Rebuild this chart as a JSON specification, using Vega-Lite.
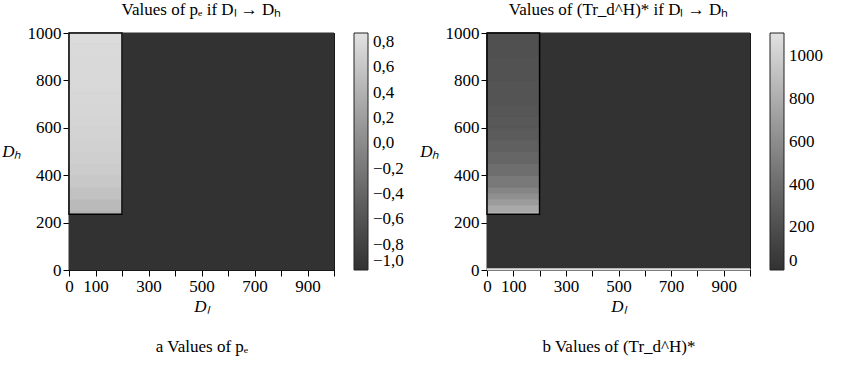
{
  "$schema": "https://vega.github.io/schema/vega-lite/v6.json",
  "background": "white",
  "padding": {"left": 1, "top": 0, "right": 4, "bottom": 4},
  "datasets": {
    "pE": [
      {"xl": 0, "xh": 1000, "yl": 0, "yh": 1000, "v": -1},
      {"xl": 0, "xh": 200, "yl": 235, "yh": 250, "v": 0.40},
      {"xl": 0, "xh": 200, "yl": 250, "yh": 300, "v": 0.48},
      {"xl": 0, "xh": 200, "yl": 300, "yh": 350, "v": 0.56},
      {"xl": 0, "xh": 200, "yl": 350, "yh": 400, "v": 0.62},
      {"xl": 0, "xh": 200, "yl": 400, "yh": 450, "v": 0.66},
      {"xl": 0, "xh": 200, "yl": 450, "yh": 500, "v": 0.69},
      {"xl": 0, "xh": 200, "yl": 500, "yh": 550, "v": 0.71},
      {"xl": 0, "xh": 200, "yl": 550, "yh": 600, "v": 0.73},
      {"xl": 0, "xh": 200, "yl": 600, "yh": 650, "v": 0.74},
      {"xl": 0, "xh": 200, "yl": 650, "yh": 700, "v": 0.75},
      {"xl": 0, "xh": 200, "yl": 700, "yh": 750, "v": 0.76},
      {"xl": 0, "xh": 200, "yl": 750, "yh": 800, "v": 0.77},
      {"xl": 0, "xh": 200, "yl": 800, "yh": 850, "v": 0.78},
      {"xl": 0, "xh": 200, "yl": 850, "yh": 900, "v": 0.78},
      {"xl": 0, "xh": 200, "yl": 900, "yh": 950, "v": 0.79},
      {"xl": 0, "xh": 200, "yl": 950, "yh": 1000, "v": 0.80}
    ],
    "tr": [
      {"xl": 0, "xh": 1000, "yl": 0, "yh": 1000, "v": 0},
      {"xl": 0, "xh": 1000, "yl": 0, "yh": 5, "v": 1110},
      {"xl": 0, "xh": 200, "yl": 235, "yh": 245, "v": 900},
      {"xl": 0, "xh": 200, "yl": 245, "yh": 275, "v": 780},
      {"xl": 0, "xh": 200, "yl": 275, "yh": 300, "v": 700},
      {"xl": 0, "xh": 200, "yl": 300, "yh": 325, "v": 620},
      {"xl": 0, "xh": 200, "yl": 325, "yh": 350, "v": 560},
      {"xl": 0, "xh": 200, "yl": 350, "yh": 400, "v": 480},
      {"xl": 0, "xh": 200, "yl": 400, "yh": 450, "v": 410},
      {"xl": 0, "xh": 200, "yl": 450, "yh": 500, "v": 360},
      {"xl": 0, "xh": 200, "yl": 500, "yh": 550, "v": 320},
      {"xl": 0, "xh": 200, "yl": 550, "yh": 600, "v": 290},
      {"xl": 0, "xh": 200, "yl": 600, "yh": 650, "v": 270},
      {"xl": 0, "xh": 200, "yl": 650, "yh": 700, "v": 255},
      {"xl": 0, "xh": 200, "yl": 700, "yh": 800, "v": 240},
      {"xl": 0, "xh": 200, "yl": 800, "yh": 900, "v": 225},
      {"xl": 0, "xh": 200, "yl": 900, "yh": 1000, "v": 215}
    ],
    "box": [
      {"xl": 0, "xh": 200, "yl": 235, "yh": 1000}
    ]
  },
  "config": {
    "font": "Liberation Serif",
    "view": {"stroke": "black", "strokeWidth": 1},
    "title": {"font": "Liberation Serif", "fontSize": 17, "fontWeight": "normal", "color": "black"}
  },
  "hconcat": [
    {
      "width": 265,
      "height": 237,
      "title": {"text": "Values of pₑ if Dₗ → Dₕ", "offset": 5},
      "layer": [
        {
          "data": {"name": "pE"},
          "mark": {"type": "rect", "strokeWidth": 1},
          "encoding": {
            "x": {"field": "xl", "type": "quantitative", "scale": {"domain": [0, 1000], "nice": false},
              "axis": {"values": [0, 100, 200, 300, 400, 500, 600, 700, 800, 900, 1000], "format": "d",
                "labelExpr": "indexof([0,100,300,500,700,900], datum.value) >= 0 ? datum.label : ''",
                "grid": false, "domainColor": "black", "tickColor": "black", "tickSize": 6,
                "labelOverlap": false, "labelFlush": false, "labelPadding": 2,
                "labelFont": "Liberation Serif", "labelFontSize": 17, "labelColor": "black",
                "encode": {"labels": {"update": {"font": {"value": "Liberation Serif"}, "fontSize": {"value": 17}, "fill": {"value": "black"}}}},
                "title": "Dₗ", "titleFontStyle": "italic", "titleFontSize": 17, "titleFontWeight": "normal", "titleColor": "black", "titlePadding": 4}},
            "x2": {"field": "xh"},
            "y": {"field": "yl", "type": "quantitative", "scale": {"domain": [0, 1000], "nice": false},
              "axis": {"values": [0, 100, 200, 300, 400, 500, 600, 700, 800, 900, 1000], "format": "d",
                "grid": false, "domainColor": "black", "tickColor": "black", "tickSize": 6,
                "labelOverlap": false, "labelFlush": false, "labelPadding": 2,
                "labelFont": "Liberation Serif", "labelFontSize": 17, "labelColor": "black",
                "encode": {"labels": {"update": {"font": {"value": "Liberation Serif"}, "fontSize": {"value": 17}, "fill": {"value": "black"}}}},
                "title": "Dₕ", "titleFontStyle": "italic", "titleFontSize": 17, "titleFontWeight": "normal", "titleColor": "black",
                "titleAngle": 0, "titleAlign": "right", "titleBaseline": "middle", "titlePadding": 6}},
            "y2": {"field": "yh"},
            "color": {"field": "v", "type": "quantitative",
              "scale": {"domain": [-1, 0.87], "range": ["#323232", "#e2e2e2"]},
              "legend": {"type": "gradient", "title": null, "values": [-1, -0.8, -0.6, -0.4, -0.2, 0, 0.2, 0.4, 0.6, 0.8],
                "gradientLength": 237, "gradientThickness": 14, "offset": 20,
                "gradientStrokeColor": "#222222", "gradientStrokeWidth": 1,
                "labelOverlap": false, "labelOffset": 5,
                "encode": {"labels": {"update": {"font": {"value": "Liberation Serif"}, "fontSize": {"value": 17}, "fill": {"value": "black"}}}},
                "labelExpr": "replace(format(datum.value, '.1f'), '.', ',')"}},
            "stroke": {"field": "v", "type": "quantitative",
              "scale": {"domain": [-1, 0.87], "range": ["#323232", "#e2e2e2"]}, "legend": null}
          }
        },
        {
          "data": {"name": "box"},
          "mark": {"type": "rect", "fill": "white", "fillOpacity": 0, "stroke": "black", "strokeWidth": 1.5},
          "encoding": {
            "x": {"field": "xl", "type": "quantitative",
              "axis": {"orient": "bottom", "domain": false, "ticks": false, "labels": false, "grid": false,
                "title": "a Values of pₑ", "titleFontSize": 17, "titleFontWeight": "normal", "titleColor": "black", "titlePadding": 68}},
            "x2": {"field": "xh"},
            "y": {"field": "yl", "type": "quantitative"},
            "y2": {"field": "yh"}
          }
        }
      ],
      "resolve": {"axis": {"x": "independent"}, "scale": {"stroke": "independent"}}
    },
    {
      "width": 263,
      "height": 237,
      "title": {"text": "Values of (Tr_d^H)* if Dₗ → Dₕ", "offset": 5},
      "layer": [
        {
          "data": {"name": "tr"},
          "mark": {"type": "rect", "strokeWidth": 1},
          "encoding": {
            "x": {"field": "xl", "type": "quantitative", "scale": {"domain": [0, 1000], "nice": false},
              "axis": {"values": [0, 100, 200, 300, 400, 500, 600, 700, 800, 900, 1000], "format": "d",
                "labelExpr": "indexof([0,100,300,500,700,900], datum.value) >= 0 ? datum.label : ''",
                "grid": false, "domainColor": "black", "tickColor": "black", "tickSize": 6,
                "labelOverlap": false, "labelFlush": false, "labelPadding": 2,
                "labelFont": "Liberation Serif", "labelFontSize": 17, "labelColor": "black",
                "encode": {"labels": {"update": {"font": {"value": "Liberation Serif"}, "fontSize": {"value": 17}, "fill": {"value": "black"}}}},
                "title": "Dₗ", "titleFontStyle": "italic", "titleFontSize": 17, "titleFontWeight": "normal", "titleColor": "black", "titlePadding": 4}},
            "x2": {"field": "xh"},
            "y": {"field": "yl", "type": "quantitative", "scale": {"domain": [0, 1000], "nice": false},
              "axis": {"values": [0, 100, 200, 300, 400, 500, 600, 700, 800, 900, 1000], "format": "d",
                "grid": false, "domainColor": "black", "tickColor": "black", "tickSize": 6,
                "labelOverlap": false, "labelFlush": false, "labelPadding": 2,
                "labelFont": "Liberation Serif", "labelFontSize": 17, "labelColor": "black",
                "encode": {"labels": {"update": {"font": {"value": "Liberation Serif"}, "fontSize": {"value": 17}, "fill": {"value": "black"}}}},
                "title": "Dₕ", "titleFontStyle": "italic", "titleFontSize": 17, "titleFontWeight": "normal", "titleColor": "black",
                "titleAngle": 0, "titleAlign": "right", "titleBaseline": "middle", "titlePadding": 6}},
            "y2": {"field": "yh"},
            "color": {"field": "v", "type": "quantitative",
              "scale": {"domain": [0, 1110], "range": ["#323232", "#e2e2e2"]},
              "legend": {"type": "gradient", "title": null, "values": [0, 200, 400, 600, 800, 1000],
                "gradientLength": 237, "gradientThickness": 14, "offset": 20,
                "gradientStrokeColor": "#222222", "gradientStrokeWidth": 1,
                "labelOverlap": false, "labelOffset": 5, "format": "d",
                "encode": {"labels": {"update": {"font": {"value": "Liberation Serif"}, "fontSize": {"value": 17}, "fill": {"value": "black"}}}}}},
            "stroke": {"field": "v", "type": "quantitative",
              "scale": {"domain": [0, 1110], "range": ["#323232", "#e2e2e2"]}, "legend": null}
          }
        },
        {
          "data": {"name": "box"},
          "mark": {"type": "rect", "fill": "white", "fillOpacity": 0, "stroke": "black", "strokeWidth": 1.5},
          "encoding": {
            "x": {"field": "xl", "type": "quantitative",
              "axis": {"orient": "bottom", "domain": false, "ticks": false, "labels": false, "grid": false,
                "title": "b Values of (Tr_d^H)*", "titleFontSize": 17, "titleFontWeight": "normal", "titleColor": "black", "titlePadding": 68}},
            "x2": {"field": "xh"},
            "y": {"field": "yl", "type": "quantitative"},
            "y2": {"field": "yh"}
          }
        }
      ],
      "resolve": {"axis": {"x": "independent"}, "scale": {"stroke": "independent"}}
    }
  ],
  "resolve": {"scale": {"color": "independent", "stroke": "independent"}},
  "spacing": 14
}
